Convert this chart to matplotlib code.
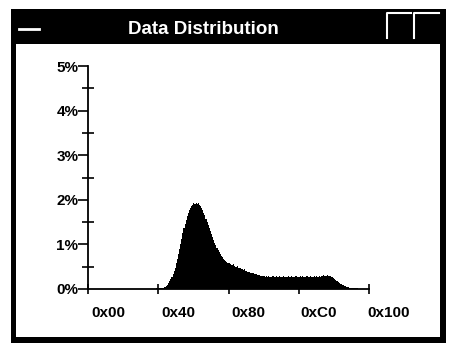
import matplotlib
matplotlib.use("Agg")
import matplotlib.pyplot as plt
from matplotlib.patches import Rectangle
from matplotlib.transforms import ScaledTranslation

# histogram of byte values, percent of samples per bin (bins 0x3C .. 0xF9)
first_bin = 60
percent = [
    0.01, 0.01, 0.02, 0.02, 0.02, 0.02, 0.03, 0.03, 0.03, 0.04, 0.05, 0.07,
    0.10, 0.14, 0.18, 0.22, 0.27, 0.33, 0.40, 0.48,
    0.58, 0.68, 0.79, 0.90, 1.02, 1.13, 1.25, 1.36, 1.46, 1.55,
    1.64, 1.71, 1.77, 1.82, 1.86, 1.89, 1.92, 1.90, 1.93, 1.91,
    1.93, 1.89, 1.86, 1.82, 1.77, 1.71, 1.65, 1.58, 1.51, 1.44,
    1.37, 1.30, 1.23, 1.16, 1.10, 1.04, 0.98, 0.93, 0.88, 0.83,
    0.79, 0.75, 0.71, 0.68, 0.65, 0.62, 0.60, 0.58, 0.59, 0.55,
    0.54, 0.53, 0.55, 0.51, 0.50, 0.49, 0.52, 0.47, 0.46, 0.45,
    0.44, 0.43, 0.45, 0.41, 0.40, 0.39, 0.38, 0.37, 0.36, 0.36,
    0.35, 0.34, 0.33, 0.33, 0.32, 0.31, 0.31, 0.30, 0.30, 0.29,
    0.29, 0.28, 0.29, 0.28, 0.30, 0.28, 0.27, 0.28, 0.29, 0.28,
    0.28, 0.29, 0.27, 0.28, 0.30, 0.28, 0.28, 0.27, 0.29, 0.28,
    0.28, 0.27, 0.29, 0.28, 0.28, 0.30, 0.28, 0.27, 0.28, 0.29,
    0.28, 0.28, 0.27, 0.29, 0.28, 0.30, 0.28, 0.28, 0.27, 0.29,
    0.28, 0.28, 0.29, 0.28, 0.27, 0.28, 0.30, 0.28, 0.29, 0.28,
    0.29, 0.28, 0.30, 0.29, 0.31, 0.29, 0.30, 0.29, 0.31, 0.30,
    0.29, 0.28, 0.27, 0.25, 0.23, 0.21, 0.19, 0.17, 0.15, 0.13,
    0.11, 0.10, 0.08, 0.07, 0.06, 0.05, 0.04, 0.04, 0.03, 0.03,
    0.02, 0.02, 0.02, 0.02, 0.02, 0.02, 0.01, 0.01, 0.01, 0.01,
]
bins = list(range(first_bin, first_bin + len(percent)))

xtick_pos = [0, 64, 128, 192, 256]
xtick_labels = ["0x00", "0x40", "0x80", "0xC0", "0x100"]
ytick_major = [0, 1, 2, 3, 4, 5]
ytick_labels = ["0%", "1%", "2%", "3%", "4%", "5%"]
ytick_minor = [0.5, 1.5, 2.5, 3.5, 4.5]
title = "Data Distribution"

W, H = 458, 355
fig = plt.figure(figsize=(W / 100, H / 100), dpi=100)
fig.patch.set_facecolor("white")

# window frame drawn in pixel coordinates
bg = fig.add_axes([0, 0, 1, 1])
bg.set_xlim(0, W)
bg.set_ylim(H, 0)
bg.axis("off")
bg.add_patch(Rectangle((11, 9), 435, 334, facecolor="black", edgecolor="none"))
bg.add_patch(Rectangle((16, 44), 424, 293, facecolor="white", edgecolor="none"))
bg.plot([19, 39], [29, 29], color="white", lw=2)
bg.plot([387, 387, 411], [38, 13, 13], color="white", lw=1.5)
bg.plot([414, 414, 439], [38, 13, 13], color="white", lw=1.5)
bg.text(203, 29, title, color="white", fontsize=13.5, fontweight="bold",
        family="Liberation Sans", ha="center", va="center")

# plot area: x 88..369 px, y 289..66 px
ax = fig.add_axes([88 / W, 1 - 289 / H, 281 / W, 223 / H])
ax.patch.set_alpha(0)
ax.bar(bins, percent, width=1.0, align="edge", color="black", linewidth=0)
ax.set_xlim(0, 256)
ax.set_ylim(0, 5)
for s in ["top", "right"]:
    ax.spines[s].set_visible(False)
for s in ["left", "bottom"]:
    ax.spines[s].set_linewidth(1.3)

ax.set_xticks(xtick_pos)
ax.set_xticklabels(xtick_labels)
ax.set_yticks(ytick_major)
ax.set_yticklabels(ytick_labels)
ax.set_yticks(ytick_minor, minor=True)

ax.tick_params(axis="x", direction="inout", length=7, width=1.2, pad=9)
ax.tick_params(axis="y", which="major", direction="out", length=7, width=1.2, pad=0)
ax.tick_params(axis="y", which="minor", direction="inout", length=8, width=1.2)

for lbl in ax.get_xticklabels() + ax.get_yticklabels():
    lbl.set_fontfamily("Liberation Sans")
    lbl.set_fontweight("bold")
    lbl.set_fontsize(11)

# the x labels sit to the right of their ticks in the original
shift = ScaledTranslation(0.20, 0, fig.dpi_scale_trans)
for lbl in ax.get_xticklabels():
    lbl.set_transform(lbl.get_transform() + shift)

fig.savefig("out.png", dpi=100)
